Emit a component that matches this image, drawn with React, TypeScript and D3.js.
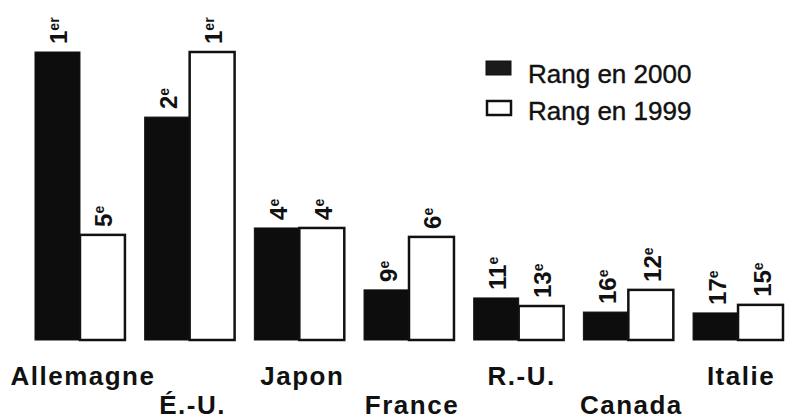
import React from "react";
import * as d3 from "d3";

const countries = ["Allemagne", "É.-U.", "Japon", "France", "R.-U.", "Canada", "Italie"];
const series = ["Rang en 2000", "Rang en 1999"];
const values2000 = [100, 77.4, 38.9, 17.4, 14.6, 9.7, 9.4];
const values1999 = [36.5, 100, 38.9, 35.8, 11.8, 17.4, 12.2];
const rank2000 = ["1", "2", "4", "9", "11", "16", "17"];
const sup2000 = ["er", "e", "e", "e", "e", "e", "e"];
const rank1999 = ["5", "1", "4", "6", "13", "12", "15"];
const sup1999 = ["e", "er", "e", "e", "e", "e", "e"];

const W = 785;
const H = 419;
const FONT = "'Liberation Sans', Arial, Helvetica, sans-serif";

export default function App() {
  const x = d3.scaleBand<string>().domain(countries).range([35, 783]).paddingInner(0.18).paddingOuter(0);
  const xi = d3.scaleBand<string>().domain(series).range([0, x.bandwidth()]).padding(0);
  const y = d3.scaleLinear().domain([0, 100]).range([340, 52]);

  const rows = countries.map((c, i) => ({
    c,
    i,
    bars: [
      { s: series[0], v: values2000[i], r: rank2000[i], sup: sup2000[i] },
      { s: series[1], v: values1999[i], r: rank1999[i], sup: sup1999[i] },
    ],
  }));

  return (
    <svg width={W} height={H} style={{ position: "absolute", left: 0, top: 0, background: "#fff" }}>
      <rect x={0} y={0} width={W} height={H} fill="#fff" />
      {rows.map((row) => (
        <g key={row.c} transform={`translate(${x(row.c)},0)`}>
          {row.bars.map((b, j) => {
            const bx = xi(b.s)!;
            const bw = xi.bandwidth();
            const top = y(b.v);
            const cx = bx + bw / 2;
            return (
              <g key={b.s}>
                <rect
                  x={bx}
                  y={top}
                  width={bw}
                  height={y(0) - top}
                  fill={j === 0 ? "#0d0d0d" : "#fff"}
                  stroke="#111"
                  strokeWidth={j === 0 ? 1 : 2.5}
                />
                <text
                  transform={`translate(${cx + 10},${top - 8}) rotate(-90)`}
                  fontFamily={FONT}
                  fontWeight="bold"
                  fontSize={24}
                  fill="#111"
                >
                  {b.r}
                  <tspan fontSize={14} dy={-8}>{b.sup}</tspan>
                </text>
              </g>
            );
          })}
          <text
            x={x.bandwidth() / 2 + 3}
            y={row.i % 2 === 0 ? 385 : 414}
            textAnchor="middle"
            fontFamily={FONT}
            fontWeight="bold"
            fontSize={26}
            letterSpacing={1.5}
            fill="#111"
          >
            {row.c}
          </text>
        </g>
      ))}
      <g fontFamily={FONT} fontSize={26} fill="#111">
        <rect x={486} y={61} width={25} height={14} fill="#1a1a1a" stroke="#111" strokeWidth={1} />
        <text x={528} y={83} stroke="#111" strokeWidth={0.4}>{series[0]}</text>
        <rect x={487} y={101} width={24} height={14} fill="#fff" stroke="#111" strokeWidth={2.5} />
        <text x={528} y={120} stroke="#111" strokeWidth={0.4}>{series[1]}</text>
      </g>
    </svg>
  );
}
